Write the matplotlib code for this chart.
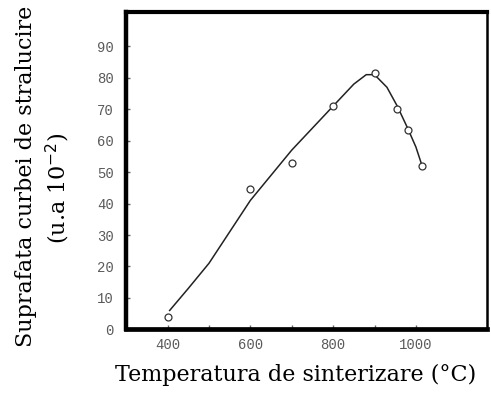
import matplotlib
matplotlib.use("Agg")
import matplotlib.pyplot as plt
import numpy as np

# measured points (open markers)
temp_pts = [400, 600, 700, 800, 900, 955, 980, 1015]
area_pts = [4, 44.5, 53, 71, 81.5, 70, 63.5, 52]

# trend curve drawn through the data
temp_curve = [405, 450, 500, 600, 700, 800, 850, 880, 900, 930, 955, 980, 1000, 1015]
area_curve = [6, 13, 21, 41, 57, 71, 78, 81, 81, 77, 71, 64, 58, 52]

xticks = [400, 500, 600, 700, 800, 900, 1000]
xlabels = ['400', '', '600', '', '800', '', '1000']
yticks = np.arange(0, 91, 10)

fig = plt.figure(figsize=(4.91, 3.93), dpi=100)
ax = fig.add_axes([0.257, 0.162, 0.735, 0.808])

ax.plot(temp_curve, area_curve, '-', color='#222222', linewidth=1.1)
ax.plot(temp_pts, area_pts, 'o', markerfacecolor='white', markeredgecolor='#333333',
        markersize=5, markeredgewidth=0.9)

ax.set_xlim(300, 1172)
ax.set_ylim(0, 101)

ax.set_xticks(xticks)
ax.set_xticklabels(xlabels)
ax.set_yticks(yticks)
ax.tick_params(direction='in', length=3, width=1, color='#666666',
               labelcolor='#5a5a5a', labelsize=10)
ax.tick_params(axis='y', pad=9)
ax.tick_params(axis='x', pad=6)
for lab in ax.get_xticklabels() + ax.get_yticklabels():
    lab.set_family('Liberation Mono')

for s, w in [('left', 3.2), ('bottom', 3.4), ('top', 3.0), ('right', 1.8)]:
    ax.spines[s].set_visible(True)
    ax.spines[s].set_color('black')
    ax.spines[s].set_linewidth(w)

ax.set_xlabel('Temperatura de sinterizare (°C)', family='DejaVu Serif',
              fontsize=16, labelpad=3)
ax.xaxis.set_label_coords(0.47, -0.11)
fig.text(0.052, 0.55, 'Suprafata curbei de stralucire', family='DejaVu Serif',
         fontsize=16, rotation=90, ha='center', va='center')
fig.text(0.118, 0.52, '(u.a 10$^{-2}$)', family='DejaVu Serif',
         fontsize=16, rotation=90, ha='center', va='center')

plt.savefig('out.png', dpi=100)
